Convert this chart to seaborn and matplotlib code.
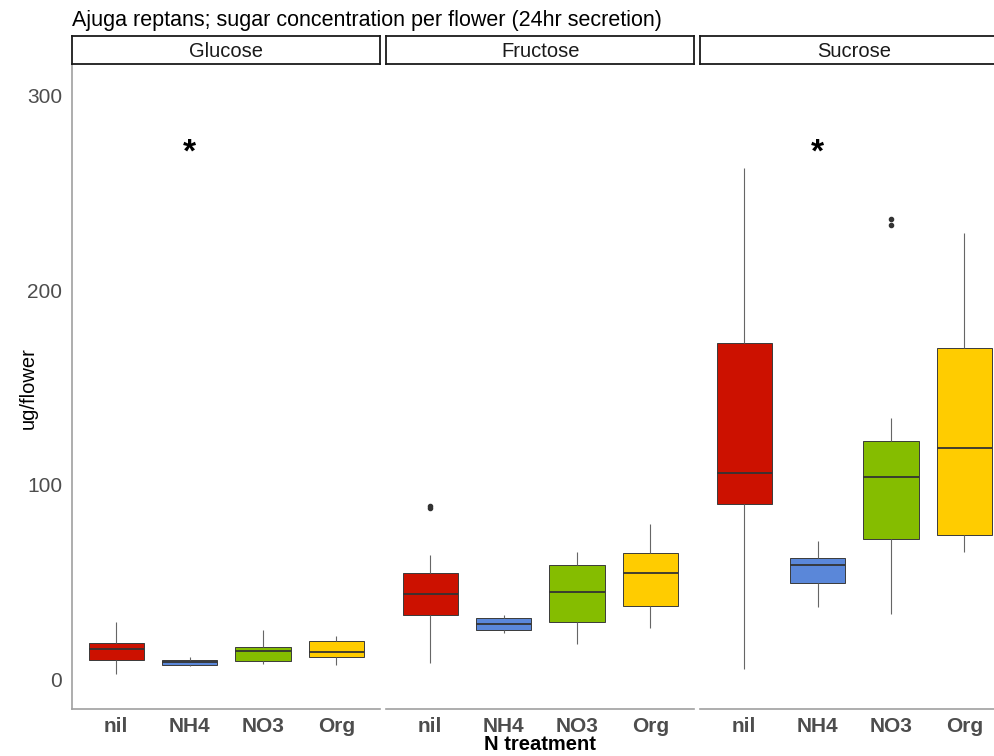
import matplotlib
matplotlib.use("Agg")
import matplotlib.pyplot as plt
import seaborn as sns
import pandas as pd

# Sugar types (facets) and nitrogen treatments (x categories)
sugars = ["Glucose", "Fructose", "Sucrose"]
treatments = ["nil", "NH4", "NO3", "Org"]
colors = ["#CC1100", "#5A87D9", "#85BD00", "#FFCC00"]

# Five-number summaries (ug/flower), one row per sugar, one column per treatment
whisker_low = [[3.1, 7.2, 8.0, 7.7],
               [8.9, 23.9, 18.3, 26.7],
               [5.8, 37.4, 33.7, 65.4]]
quartile_1 = [[10.1, 7.7, 9.7, 12.0],
              [33.3, 25.6, 29.6, 38.1],
              [90.1, 49.8, 72.2, 74.1]]
medians = [[15.7, 9.1, 15.0, 14.2],
           [44.1, 28.9, 45.0, 54.7],
           [106.2, 59.0, 104.2, 118.9]]
quartile_3 = [[18.8, 10.3, 17.1, 20.2],
              [54.7, 31.6, 59.0, 65.0],
              [172.9, 62.6, 122.6, 170.2]]
whisker_high = [[29.9, 12.0, 25.6, 22.6],
                [64.1, 33.2, 65.5, 79.8],
                [262.8, 71.4, 134.4, 229.3]]
# Outlying flowers
outlier_sugar = ["Fructose", "Fructose", "Sucrose", "Sucrose"]
outlier_treatment = ["nil", "nil", "NO3", "NO3"]
outlier_value = [88.0, 89.2, 233.3, 236.6]

# Significance markers (sugar, treatment, height)
star_sugar = ["Glucose", "Sucrose"]
star_treatment = ["NH4", "NH4"]
star_height = [270.0, 270.0]

title = "Ajuga reptans; sugar concentration per flower (24hr secretion)"

# Long-form sample table whose quartiles/whiskers reproduce the summaries
rows = []
for si, sugar in enumerate(sugars):
    for ti, trt in enumerate(treatments):
        vals = ([whisker_low[si][ti]] + [quartile_1[si][ti]] * 3 +
                [medians[si][ti]] * 3 + [quartile_3[si][ti]] * 3 +
                [whisker_high[si][ti]])
        vals += [v for s, t, v in zip(outlier_sugar, outlier_treatment, outlier_value)
                 if s == sugar and t == trt]
        rows += [(sugar, trt, v) for v in vals]
df = pd.DataFrame(rows, columns=["sugar", "treatment", "value"])

sns.set_theme(style="white")
plt.rcParams["font.family"] = ["Liberation Sans", "DejaVu Sans"]

W, H = 995, 756
fig = plt.figure(figsize=(W / 100, H / 100), dpi=100)


def fx(px):
    return px / W


def fy(py):
    return 1 - py / H


panel_left = [72, 386, 700]
panel_w = 308.5
top_px, bot_px = 65, 709
strip_top = 36
axis_grey = "#A0A0A0"
text_grey = "#4D4D4D"

for i, sugar in enumerate(sugars):
    ax = fig.add_axes([fx(panel_left[i]), fy(bot_px), panel_w / W, (bot_px - top_px) / H])
    sub = df[df["sugar"] == sugar]
    sns.boxplot(data=sub, x="treatment", y="value", hue="treatment",
                order=treatments, hue_order=treatments, palette=colors,
                saturation=1, width=0.75, linecolor="#3A3A3A", linewidth=0.7,
                legend=False, ax=ax,
                medianprops=dict(color="#333333", linewidth=1.3),
                whiskerprops=dict(color="#666666", linewidth=0.8),
                capprops=dict(linewidth=0),
                flierprops=dict(marker="o", markersize=3,
                                markerfacecolor="#333333", markeredgecolor="#333333"))
    ax.set_xlim(-0.6, 3.6)
    ax.set_ylim(-14.9, 315.4)
    ax.set_xlabel("")
    ax.set_ylabel("")
    for side in ["top", "right"]:
        ax.spines[side].set_visible(False)
    ax.spines["bottom"].set_color(axis_grey)
    ax.spines["bottom"].set_linewidth(1.2)
    if i == 0:
        ax.spines["left"].set_color(axis_grey)
        ax.spines["left"].set_linewidth(1.2)
        ax.set_yticks([0, 100, 200, 300])
        ax.tick_params(axis="y", length=4, width=1, color=axis_grey,
                       labelsize=15, labelcolor=text_grey, pad=3)
    else:
        ax.spines["left"].set_visible(False)
        ax.tick_params(axis="y", left=False, labelleft=False)
    ax.tick_params(axis="x", length=3, width=1, color=axis_grey,
                   labelsize=15, labelcolor=text_grey, pad=3)
    for lab in ax.get_xticklabels():
        lab.set_fontweight("bold")

    for s, t, h in zip(star_sugar, star_treatment, star_height):
        if s == sugar:
            ax.text(treatments.index(t), h, "*", ha="center", va="center",
                    fontsize=24, fontweight="bold", color="black")

    # Facet strip
    sax = fig.add_axes([fx(panel_left[i]), fy(64), panel_w / W, (64 - strip_top) / H])
    sax.set_xticks([])
    sax.set_yticks([])
    sax.set_facecolor("white")
    for sp in sax.spines.values():
        sp.set_color("#1A1A1A")
        sp.set_linewidth(1.3)
    sax.text(0.5, 0.45, sugar, ha="center", va="center", fontsize=14.5,
             color="#1A1A1A", transform=sax.transAxes)

fig.text(fx(72), fy(26), title, ha="left", va="baseline", fontsize=15.5, color="black")
fig.text(fx(28), fy(388), "ug/flower", rotation=90, ha="center", va="center",
         fontsize=14.5, color="black")
fig.text(fx(540), fy(745), "N treatment", ha="center", va="center",
         fontsize=14.5, fontweight="bold", color="black")

fig.savefig("out.png", dpi=100)
